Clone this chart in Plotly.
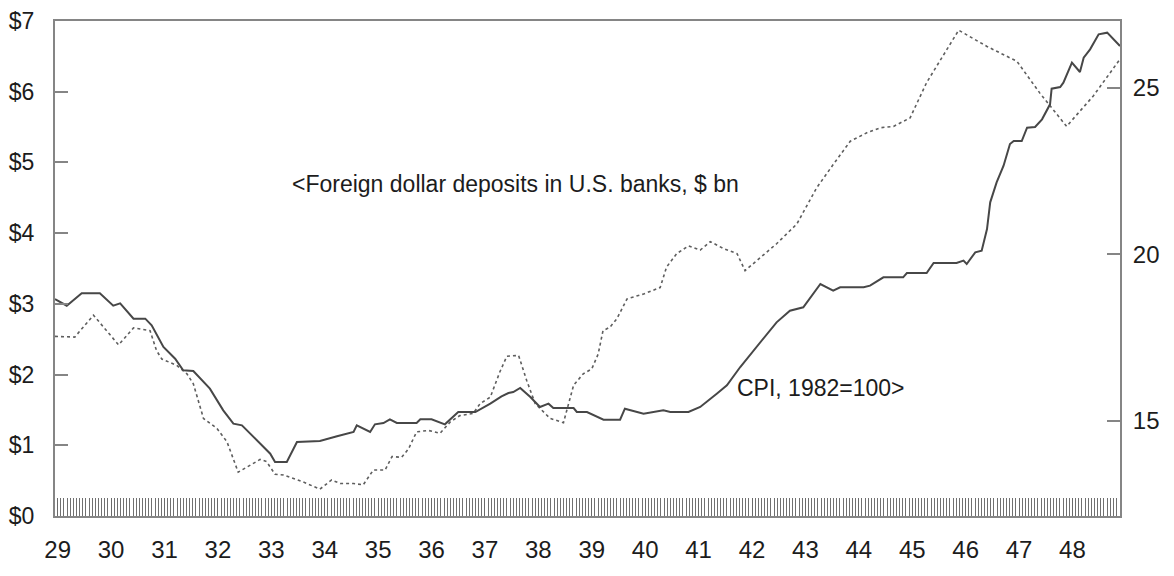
import plotly.graph_objects as go

# Foreign dollar deposits in U.S. banks, $ bn (left axis, dotted)
dep_year = [1928.95, 1929.32, 1929.67, 1930.14, 1930.42, 1930.73, 1930.85, 1930.95, 1931.23, 1931.42,
            1931.54, 1931.73, 1931.98, 1932.17, 1932.38, 1932.79, 1932.91, 1933.07, 1933.23, 1933.60,
            1933.91, 1934.13, 1934.29, 1934.54, 1934.72, 1934.91, 1935.13, 1935.26, 1935.44, 1935.57,
            1935.72, 1935.94, 1936.16, 1936.35, 1936.53, 1936.78, 1936.91, 1937.10, 1937.28, 1937.41,
            1937.63, 1937.78, 1937.94, 1938.22, 1938.47, 1938.66, 1938.84, 1939.00, 1939.12, 1939.21,
            1939.34, 1939.47, 1939.66, 1939.97, 1940.28, 1940.40, 1940.59, 1940.81, 1941.03, 1941.22,
            1941.47, 1941.72, 1941.87, 1942.09, 1942.46, 1942.84, 1943.03, 1943.21, 1943.52, 1943.84,
            1944.15, 1944.40, 1944.65, 1944.96, 1945.27, 1945.87, 1946.40, 1946.96, 1947.39, 1947.89,
            1948.39, 1948.89]
dep_value = [2.54, 2.53, 2.84, 2.42, 2.66, 2.62, 2.34, 2.22, 2.13, 2.01,
             1.87, 1.38, 1.24, 1.05, 0.62, 0.80, 0.77, 0.59, 0.58, 0.48,
             0.38, 0.51, 0.46, 0.46, 0.44, 0.65, 0.65, 0.84, 0.83, 0.95,
             1.19, 1.21, 1.17, 1.33, 1.42, 1.45, 1.59, 1.68, 2.04, 2.26,
             2.27, 1.92, 1.59, 1.38, 1.32, 1.85, 2.01, 2.08, 2.29, 2.62,
             2.67, 2.79, 3.07, 3.14, 3.23, 3.52, 3.71, 3.82, 3.76, 3.88,
             3.78, 3.71, 3.47, 3.61, 3.85, 4.13, 4.39, 4.64, 4.97, 5.30,
             5.42, 5.49, 5.51, 5.63, 6.13, 6.87, 6.64, 6.43, 5.98, 5.51,
             5.94, 6.46]

# CPI, 1982=100 (right axis, solid)
cpi_year = [1928.95, 1929.17, 1929.45, 1929.79, 1930.04, 1930.17, 1930.42, 1930.64, 1930.76, 1930.98,
            1931.20, 1931.35, 1931.54, 1931.73, 1931.85, 1932.10, 1932.29, 1932.45, 1932.98, 1933.07,
            1933.29, 1933.48, 1933.91, 1934.23, 1934.54, 1934.60, 1934.85, 1934.94, 1935.10, 1935.22,
            1935.35, 1935.72, 1935.79, 1936.00, 1936.25, 1936.50, 1936.82, 1937.10, 1937.31, 1937.44,
            1937.53, 1937.66, 1937.85, 1938.03, 1938.19, 1938.28, 1938.66, 1938.72, 1938.91, 1939.22,
            1939.53, 1939.62, 1939.97, 1940.34, 1940.47, 1940.81, 1941.03, 1941.34, 1941.53, 1941.78,
            1942.09, 1942.46, 1942.71, 1942.96, 1943.28, 1943.52, 1943.65, 1944.09, 1944.21, 1944.46,
            1944.83, 1944.90, 1945.27, 1945.40, 1945.83, 1945.96, 1946.02, 1946.18, 1946.30, 1946.40,
            1946.46, 1946.58, 1946.71, 1946.83, 1946.90, 1947.05, 1947.15, 1947.30, 1947.43, 1947.58,
            1947.61, 1947.77, 1947.83, 1947.99, 1948.14, 1948.21, 1948.33, 1948.49, 1948.65, 1948.89]
cpi_value = [18.66, 18.46, 18.83, 18.83, 18.46, 18.53, 18.07, 18.07, 17.87, 17.22,
             16.87, 16.52, 16.50, 16.17, 15.97, 15.32, 14.92, 14.87, 14.02, 13.77,
             13.77, 14.37, 14.40, 14.54, 14.67, 14.87, 14.67, 14.90, 14.94, 15.05,
             14.94, 14.94, 15.05, 15.05, 14.90, 15.27, 15.27, 15.52, 15.74, 15.84,
             15.87, 15.99, 15.72, 15.42, 15.52, 15.39, 15.39, 15.27, 15.27, 15.04,
             15.04, 15.37, 15.22, 15.32, 15.27, 15.27, 15.42, 15.82, 16.07, 16.62,
             17.22, 17.96, 18.31, 18.41, 19.11, 18.91, 19.01, 19.01, 19.06, 19.31,
             19.31, 19.44, 19.44, 19.74, 19.74, 19.81, 19.71, 20.06, 20.11, 20.76,
             21.56, 22.16, 22.66, 23.31, 23.40, 23.40, 23.80, 23.82, 24.05, 24.50,
             24.97, 25.02, 25.15, 25.75, 25.47, 25.90, 26.15, 26.60, 26.65, 26.25]

year_ticks = list(range(1929, 1949))
year_labels = [str(y)[2:] for y in year_ticks]
left_ticks = [0, 1, 2, 3, 4, 5, 6, 7]
left_labels = ["$" + str(v) for v in left_ticks]
right_ticks = [15, 20, 25]

FONT = "Liberation Sans, Arial, sans-serif"
TXT = "#1c1c1c"
AX = "#858585"

fig = go.Figure()
fig.add_trace(go.Scatter(x=dep_year, y=dep_value, mode="lines", yaxis="y",
                         line=dict(color="#5e5e5e", width=1.6, dash="dot"),
                         name="Foreign dollar deposits", showlegend=False))
fig.add_trace(go.Scatter(x=cpi_year, y=cpi_value, mode="lines", yaxis="y2",
                         line=dict(color="#474747", width=2),
                         name="CPI", showlegend=False))

fig.add_annotation(x=1933.35, y=4.70, xref="x", yref="y", xanchor="left", yanchor="middle",
                   text="<Foreign dollar deposits in U.S. banks, $ bn", showarrow=False,
                   font=dict(family=FONT, size=23, color=TXT))
fig.add_annotation(x=1941.68, y=15.98, xref="x", yref="y2", xanchor="left", yanchor="middle",
                   text="CPI, 1982=100>", showarrow=False,
                   font=dict(family=FONT, size=23, color=TXT))

# page body has an 8px default margin, so the figure box is offset by 8px
fig.update_layout(
    width=1174, height=576,
    margin=dict(l=47, r=62, t=13, b=68),
    paper_bgcolor="white", plot_bgcolor="white",
    font=dict(family=FONT, size=24, color=TXT),
    xaxis=dict(range=[1928.95, 1948.89], tickmode="array", tickvals=year_ticks, ticktext=year_labels,
               showgrid=False, zeroline=False, showline=True, linecolor=AX, linewidth=2, mirror=True,
               ticks="inside", ticklen=18, tickcolor="#6a6a6a", tickwidth=1,
               minor=dict(tickmode="linear", tick0=1929, dtick=1/17, ticks="inside", ticklen=18,
                          tickcolor="#707070", tickwidth=1, showgrid=False),
               automargin=False, ticklabeloverflow="allow",
               ticklabelstandoff=11, tickfont=dict(family=FONT, size=24, color=TXT)),
    yaxis=dict(range=[0, 7], tickmode="array", tickvals=left_ticks, ticktext=left_labels,
               showgrid=False, zeroline=False, showline=True, linecolor=AX, linewidth=2, mirror=True,
               ticks="inside", ticklen=13, tickcolor=AX, tickwidth=1.5, automargin=False,
               ticklabeloverflow="allow",
               ticklabelstandoff=14, tickfont=dict(family=FONT, size=23, color=TXT)),
    yaxis2=dict(range=[12.15, 27.0], overlaying="y", side="right", tickmode="array",
                tickvals=right_ticks, ticktext=[str(v) for v in right_ticks],
                showgrid=False, zeroline=False, showline=True, linecolor=AX, linewidth=2,
                ticks="inside", ticklen=13, tickcolor=AX, tickwidth=1.5, automargin=False,
                ticklabeloverflow="allow",
                ticklabelstandoff=6, tickfont=dict(family=FONT, size=24, color=TXT)),
)

fig.write_html("out.html")
